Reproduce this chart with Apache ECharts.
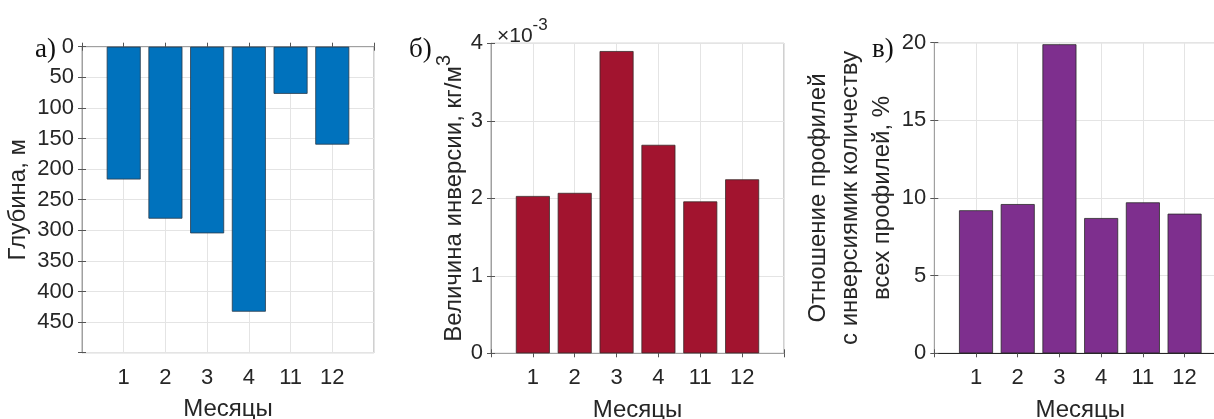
<!DOCTYPE html>
<html>
<head>
<meta charset="utf-8">
<script src="https://cdn.jsdelivr.net/npm/echarts@6/dist/echarts.min.js"></script>
<style>
html,body{margin:0;padding:0;background:#fff;}
#chart{width:1214px;height:419px;}
</style>
</head>
<body>
<div id="chart"></div>
<script>
// ---- data ----
const categories = ['1', '2', '3', '4', '11', '12'];
const depth = [217, 281, 305, 433, 77, 160];                       // м
const inversion = [0.00203, 0.00207, 0.00390, 0.00269, 0.00196, 0.002245]; // кг/м3
const ratio = [9.21, 9.61, 19.9, 8.71, 9.72, 8.99];                 // %
const depthTicks = [0, 50, 100, 150, 200, 250, 300, 350, 400, 450];
const inversionTicks = [0, 1, 2, 3, 4];   // ×10^-3
const ratioTicks = [0, 5, 10, 15, 20];

// ---- styles ----
const FONT = 'Liberation Sans, Arial, sans-serif';
const SERIF = 'Liberation Serif, Times New Roman, serif';
const TXT = '#262626';
const BOX = '#a0a0a0';
const GRIDC = '#e4e4e4';
const TICKC = '#555';
const TICKFS = 22;

const grids = [
  {left: 82, top: 46.7, width: 292, height: 306},
  {left: 491, top: 43.3, width: 293, height: 310},
  {left: 934.3, top: 42.7, width: 292, height: 310.6}
].map(g => Object.assign({show: true, borderColor: BOX, borderWidth: 1, backgroundColor: '#fff',
  containLabel: false, outerBoundsMode: 'none'}, g));

function xMain(gi) {
  return {
    type: 'value', gridIndex: gi, min: 0, max: 7, interval: 1, position: 'bottom',
    name: 'Месяцы', nameLocation: 'middle', nameGap: 45,
    nameTextStyle: {fontFamily: FONT, fontSize: 24, color: TXT},
    axisLine: {show: true, lineStyle: {color: BOX, width: 1}},
    axisTick: {show: true, inside: true, length: 4, lineStyle: {color: TICKC}},
    axisLabel: {fontFamily: FONT, fontSize: TICKFS, color: TXT, margin: 14,
      formatter: v => (categories[v - 1] !== undefined ? categories[v - 1] : '')},
    splitLine: {show: true, lineStyle: {color: GRIDC, width: 1}}
  };
}
function xTop(gi, lineColor) {
  return {
    type: 'value', gridIndex: gi, min: 0, max: 7, interval: 1, position: 'top',
    axisLine: {show: true, lineStyle: {color: lineColor || BOX, width: 1}},
    axisTick: {show: true, inside: true, length: 4, lineStyle: {color: TICKC}},
    axisLabel: {show: false}, splitLine: {show: false}
  };
}
function yMain(gi, opts) {
  return Object.assign({
    type: 'value', gridIndex: gi, position: 'left',
    nameLocation: 'middle',
    nameTextStyle: {fontFamily: FONT, fontSize: 24, color: TXT},
    axisLine: {show: true, lineStyle: {color: BOX, width: 1}},
    axisTick: {show: true, inside: true, length: 4, lineStyle: {color: TICKC}},
    splitLine: {show: true, lineStyle: {color: GRIDC, width: 1}}
  }, opts);
}
function yRight(gi, opts) {
  return Object.assign({
    type: 'value', gridIndex: gi, position: 'right',
    axisLine: {show: true, lineStyle: {color: BOX, width: 1}},
    axisTick: {show: true, inside: true, length: 4, lineStyle: {color: TICKC}},
    axisLabel: {show: false}, splitLine: {show: false}
  }, opts);
}
const lab = (fmt) => ({fontFamily: FONT, fontSize: TICKFS, color: TXT, margin: 8, formatter: fmt});

const option = {
  animation: false,
  backgroundColor: '#fff',
  grid: grids,
  title: [
    {text: 'а)', left: 30, top: 31, textStyle: {fontFamily: SERIF, fontSize: 27, fontWeight: 'normal', color: '#111'}},
    {text: 'б)', left: 404, top: 31, textStyle: {fontFamily: SERIF, fontSize: 27, fontWeight: 'normal', color: '#111'}},
    {text: 'в)', left: 867, top: 31, textStyle: {fontFamily: SERIF, fontSize: 27, fontWeight: 'normal', color: '#111'}},
    {text: '{a|×10}{b|-3}', left: 492, top: 12,
      textStyle: {fontWeight: 'normal', rich: {
        a: {fontFamily: FONT, fontSize: 21, fontWeight: 'normal', color: TXT, lineHeight: 30, verticalAlign: 'bottom'},
        b: {fontFamily: FONT, fontSize: 17, fontWeight: 'normal', color: TXT, verticalAlign: 'top'}
      }}}
  ],
  xAxis: [xMain(0), xTop(0), xMain(1), xTop(1), xMain(2), xTop(2, '#262626')],
  yAxis: [
    yMain(0, {min: 0, max: 500, interval: 50, inverse: true, name: 'Глубина, м', nameGap: 52,
      axisLabel: lab(v => depthTicks.includes(v) ? String(v) : '')}),
    yRight(0, {min: 0, max: 500, interval: 50, inverse: true}),
    yMain(1, {min: 0, max: 0.004, interval: 0.001, nameGap: 24,
      name: '{a|Величина инверсии, кг/м}{b|3}',
      nameTextStyle: {rich: {
        a: {fontFamily: FONT, fontSize: 24, color: TXT, lineHeight: 32, verticalAlign: 'bottom'},
        b: {fontFamily: FONT, fontSize: 20, color: TXT, verticalAlign: 'top'}
      }},
      axisLabel: lab(v => { const t = Math.round(v * 1000); return inversionTicks.includes(t) ? String(t) : ''; })}),
    yRight(1, {min: 0, max: 0.004, interval: 0.001}),
    yMain(2, {min: 0, max: 20, interval: 5, nameGap: 36,
      name: 'Отношение профилей\nс инверсиямик количеству\nвсех профилей, %',
      nameTextStyle: {fontFamily: FONT, fontSize: 24, color: TXT, lineHeight: 32},
      axisLabel: lab(v => ratioTicks.includes(v) ? String(v) : '')}),
    yRight(2, {min: 0, max: 20, interval: 5})
  ],
  series: [
    {type: 'bar', xAxisIndex: 0, yAxisIndex: 0, barWidth: 34,
      itemStyle: {color: '#0072BD', borderColor: '#2a3a4a', borderWidth: 0.8},
      data: depth.map((v, i) => [i + 1, v])},
    {type: 'bar', xAxisIndex: 2, yAxisIndex: 2, barWidth: 34,
      itemStyle: {color: '#A2142F', borderColor: '#3a2a2a', borderWidth: 0.8},
      data: inversion.map((v, i) => [i + 1, v])},
    {type: 'bar', xAxisIndex: 4, yAxisIndex: 4, barWidth: 34,
      itemStyle: {color: '#7E2F8E', borderColor: '#2a2a2a', borderWidth: 0.8},
      data: ratio.map((v, i) => [i + 1, v])}
  ]
};
const chart = echarts.init(document.getElementById('chart'), null, {renderer: 'canvas'});
chart.setOption(option);
</script>
</body>
</html>
